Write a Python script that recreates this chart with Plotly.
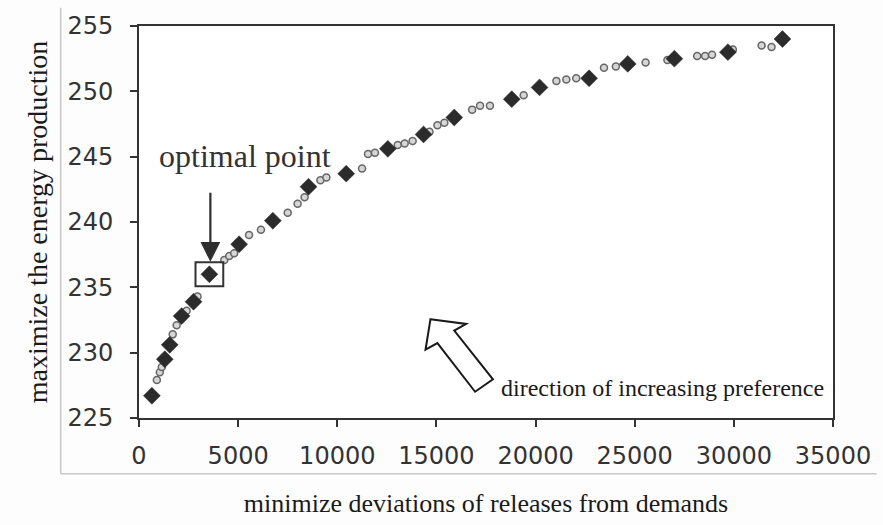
import plotly.graph_objects as go

# ---- data ----
filled_x = [650, 1300, 1550, 2150, 2750, 3550, 5050, 6750, 8550, 10450,
            12550, 14350, 15900, 18800, 20200, 22700, 24650, 27000, 29700, 32450]
filled_y = [226.7, 229.5, 230.6, 232.8, 233.9, 236.0, 238.3, 240.1, 242.7, 243.7,
            245.6, 246.7, 248.0, 249.4, 250.3, 251.0, 252.1, 252.5, 253.0, 254.0]

open_x = [900, 1050, 1150, 1700, 1900, 2400, 2950, 4300, 4550, 4800,
          5550, 6150, 7500, 8000, 8350, 9150, 9450, 11250, 11550, 11900,
          13050, 13400, 13800, 14650, 15050, 15400, 16800, 17200, 17700, 19400,
          21050, 21550, 22050, 23450, 24050, 25550, 26650, 28150, 28550, 28900,
          29950, 31400, 31900]
open_y = [227.9, 228.5, 228.9, 231.4, 232.1, 233.2, 234.3, 237.1, 237.4, 237.6,
          239.0, 239.4, 240.7, 241.4, 241.9, 243.2, 243.4, 244.1, 245.2, 245.3,
          245.9, 246.0, 246.2, 246.9, 247.4, 247.6, 248.6, 248.9, 248.9, 249.7,
          250.8, 250.9, 251.0, 251.8, 251.9, 252.2, 252.4, 252.7, 252.7, 252.8,
          253.2, 253.5, 253.4]

optimal_x = [3550]
optimal_y = [236.0]

x_ticks = [0, 5000, 10000, 15000, 20000, 25000, 30000, 35000]
x_tick_labels = ["0", "5000", "10000", "15000", "20000", "25000", "30000", "35000"]
y_ticks = [225, 230, 235, 240, 245, 250, 255]
y_tick_labels = ["225", "230", "235", "240", "245", "250", "255"]

x_title = "minimize deviations of releases from demands"
y_title = "maximize the energy production"
opt_label = "optimal point"
pref_label = "direction of increasing preference"

# ---- layout geometry (pixels) ----
W, H = 883, 525
L, R, T, B = 139, 839, 19, 429.5
X0, X1, Y0, Y1 = 0, 35000, 225, 255


def px2x(px):
    return X0 + (px - L) / (R - L) * (X1 - X0)


def py2y(py):
    return Y1 - (py - T) / (B - T) * (Y1 - Y0)


fig = go.Figure()
fig.add_trace(go.Scatter(
    x=open_x, y=open_y, mode="markers", name="solutions",
    marker=dict(symbol="circle", size=7, color="#d6d6d6",
                line=dict(color="#666666", width=1.5)),
    showlegend=False))
fig.add_trace(go.Scatter(
    x=filled_x, y=filled_y, mode="markers", name="selected",
    marker=dict(symbol="diamond", size=13, color="#2b2b2b",
                line=dict(color="#2b2b2b", width=0.5)),
    showlegend=False))

# box around optimal point
bw, bh = px2x(L + 14) - px2x(L), py2y(T) - py2y(T + 12.5)
fig.add_shape(type="rect", xref="x", yref="y",
              x0=optimal_x[0] - bw, x1=optimal_x[0] + bw,
              y0=optimal_y[0] - bh, y1=optimal_y[0] + bh,
              line=dict(color="#333333", width=2), fillcolor="rgba(0,0,0,0)")

# arrow pointing to optimal point
fig.add_annotation(x=optimal_x[0] + 50, y=py2y(266), ax=optimal_x[0] + 50, ay=py2y(192),
                   xref="x", yref="y", axref="x", ayref="y", text="",
                   showarrow=True, arrowhead=2, arrowsize=1.8, arrowwidth=2.2,
                   arrowcolor="#2e2e2e")
fig.add_annotation(x=px2x(246), y=py2y(155), xref="x", yref="y", text=opt_label,
                   showarrow=False,
                   font=dict(family="Liberation Serif", size=32, color="#333333"))

# hollow block arrow (direction of preference)
pts = [(433, 326), (469, 331), (457, 338), (496, 389), (478, 402), (440, 351), (428, 358)]
path = "M " + " L ".join(f"{px2x(a):.1f},{py2y(b):.3f}" for a, b in pts) + " Z"
fig.add_shape(type="path", xref="x", yref="y", path=path,
              line=dict(color="#1a1a1a", width=2), fillcolor="white")
fig.add_annotation(x=px2x(502), y=py2y(398), xref="x", yref="y", text=pref_label,
                   showarrow=False, xanchor="left",
                   font=dict(family="Liberation Serif", size=24, color="#1a1a1a"))

# faint chart-area border of the scan
fig.add_shape(type="line", xref="paper", yref="paper",
              x0=(60 - L) / (R - L), x1=(60 - L) / (R - L),
              y0=(B - 488) / (B - T), y1=(B - 0) / (B - T),
              line=dict(color="#c8c8c8", width=1.5))
fig.add_shape(type="line", xref="paper", yref="paper",
              x0=(60 - L) / (R - L), x1=(883 - L) / (R - L),
              y0=(B - 488) / (B - T), y1=(B - 488) / (B - T),
              line=dict(color="#c8c8c8", width=1.5))

axis_common = dict(showline=True, mirror=True, linecolor="#333333", linewidth=2,
                   ticks="outside", ticklen=7, tickwidth=2, tickcolor="#333333",
                   showgrid=False, zeroline=False,
                   tickfont=dict(family="DejaVu Sans", size=24, color="#333333"))

fig.update_layout(
    width=W, height=H,
    margin=dict(l=L, r=W - R, t=T, b=H - B),
    paper_bgcolor="#fdfdfd", plot_bgcolor="#ffffff",
    xaxis=dict(range=[X0, X1], tickvals=x_ticks, ticktext=x_tick_labels,
               ticklabelstandoff=8,
               title=dict(text=x_title, standoff=25,
                          font=dict(family="Liberation Serif", size=26, color="#1a1a1a")),
               **axis_common),
    yaxis=dict(range=[Y0, Y1], tickvals=y_ticks, ticktext=y_tick_labels,
               ticklabelstandoff=12,
               title=dict(text=y_title, standoff=12,
                          font=dict(family="Liberation Serif", size=28, color="#1a1a1a")),
               **axis_common),
)

fig.write_html("out.html", config={"displayModeBar": False},
               post_script="document.body.style.margin='0';document.body.style.overflow='hidden';")
